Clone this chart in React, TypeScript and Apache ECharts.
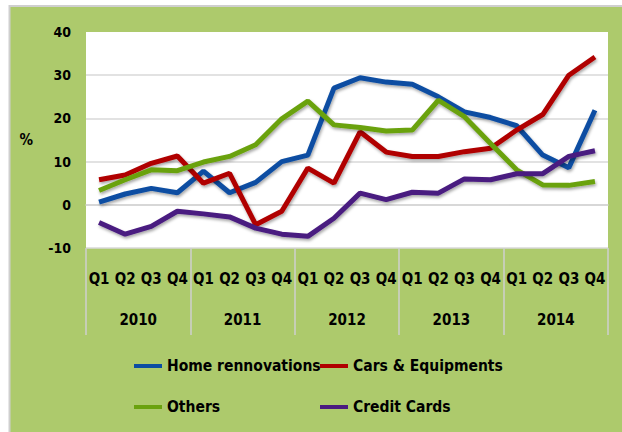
import React, { useEffect, useRef } from "react";
import * as echarts from "echarts";

const quarters = ["Q1","Q2","Q3","Q4","Q1","Q2","Q3","Q4","Q1","Q2","Q3","Q4","Q1","Q2","Q3","Q4","Q1","Q2","Q3","Q4"];
const years = ["2010", "2011", "2012", "2013", "2014"];
const yTicks = { min: -10, max: 40, interval: 10 };

const homeRenovations = [0.6, 2.5, 3.8, 2.8, 7.8, 2.8, 5.2, 10.0, 11.5, 27.0, 29.4, 28.4, 27.9, 25.0, 21.5, 20.2, 18.3, 11.5, 8.6, 21.9];
const carsEquipments = [5.8, 6.9, 9.6, 11.3, 5.0, 7.3, -4.6, -1.5, 8.5, 5.0, 16.9, 12.2, 11.2, 11.2, 12.3, 13.1, 17.3, 20.9, 30.0, 34.2];
const others = [3.3, 5.8, 8.1, 7.9, 9.9, 11.2, 13.9, 19.9, 24.0, 18.5, 17.9, 17.1, 17.3, 24.2, 20.4, 14.2, 8.1, 4.6, 4.5, 5.4];
const creditCards = [-4.1, -6.8, -5.0, -1.5, -2.1, -2.8, -5.4, -6.8, -7.3, -3.1, 2.7, 1.2, 2.9, 2.7, 6.0, 5.8, 7.2, 7.2, 11.2, 12.5];

const seriesNames = ["Home rennovations", "Cars & Equipments", "Others", "Credit Cards"];
const seriesColors = ["#0b4da2", "#b00000", "#6aa20e", "#4a1b80"];

const FONT = "'DejaVu Sans Condensed', 'Liberation Sans Narrow', 'Liberation Sans', sans-serif";

export default function App() {
  const ref = useRef<HTMLDivElement>(null);
  useEffect(() => {
    if (!ref.current) return;
    const chart = echarts.init(ref.current, undefined, { renderer: "svg" });
    const data = [homeRenovations, carsEquipments, others, creditCards];
    const mkSeries = (i: number) => ({
      name: seriesNames[i],
      type: "line",
      data: data[i],
      symbol: "none",
      xAxisIndex: 0,
      yAxisIndex: 0,
      lineStyle: {
        width: 5,
        color: seriesColors[i],
        shadowColor: "rgba(0,0,0,0.35)",
        shadowBlur: 3,
        shadowOffsetX: 1,
        shadowOffsetY: 2,
      },
      itemStyle: { color: seriesColors[i] },
      z: 3,
    });
    const legendBase = {
      orient: "vertical",
      icon: "rect",
      itemWidth: 28,
      itemHeight: 4,
      itemGap: 25,
      textStyle: { fontFamily: FONT, fontWeight: "bold", fontSize: 15.5, color: "#000" },
      selectedMode: false,
    };
    chart.setOption({
      animation: false,
      backgroundColor: "#ffffff",
      graphic: [
        {
          type: "rect",
          z: -10,
          shape: { x: 9.5, y: 6, width: 620, height: 430 },
          style: { fill: "#adca6c", stroke: "#cfcfcf", lineWidth: 2 },
        },
      ],
      grid: {
        left: 86,
        right: 14,
        top: 32,
        bottom: 184,
        show: true,
        backgroundColor: "#ffffff",
        borderWidth: 0,
      },
      legend: [
        { ...legendBase, left: 129, top: 353, data: [seriesNames[0], seriesNames[2]] },
        { ...legendBase, left: 315, top: 353, data: [seriesNames[1], seriesNames[3]] },
      ],
      xAxis: [
        {
          type: "category",
          data: quarters,
          position: "bottom",
          boundaryGap: true,
          axisLine: { show: true, lineStyle: { color: "#d4d4d4", width: 1.5 } },
          axisTick: { show: false },
          axisLabel: {
            interval: 0,
            margin: 23,
            fontFamily: FONT,
            fontWeight: "bold",
            fontSize: 15,
            color: "#000",
          },
        },
        {
          type: "category",
          data: years,
          position: "bottom",
          boundaryGap: true,
          axisLine: { show: false },
          axisTick: { show: true, length: 87, lineStyle: { color: "#cfcfcf", width: 1.5 } },
          axisLabel: {
            interval: 0,
            margin: 64,
            fontFamily: FONT,
            fontWeight: "bold",
            fontSize: 15,
            color: "#000",
          },
        },
      ],
      yAxis: {
        type: "value",
        min: yTicks.min,
        max: yTicks.max,
        interval: yTicks.interval,
        name: "%",
        nameLocation: "middle",
        nameRotate: 0,
        nameGap: 53,
        nameTextStyle: { fontFamily: FONT, fontWeight: "bold", fontSize: 15, color: "#000" },
        axisLine: { show: false },
        axisTick: { show: false },
        axisLabel: {
          margin: 15,
          fontFamily: FONT,
          fontWeight: "bold",
          fontSize: 14,
          color: "#000",
        },
        splitLine: { show: true, showMaxLine: false, lineStyle: { color: "#d9d9d9", width: 1.5 } },
      },
      series: [mkSeries(0), mkSeries(1), mkSeries(2), mkSeries(3)],
    });
    return () => chart.dispose();
  }, []);
  return (
    <div
      ref={ref}
      style={{ position: "fixed", left: 0, top: 0, width: 622, height: 432 }}
    />
  );
}
